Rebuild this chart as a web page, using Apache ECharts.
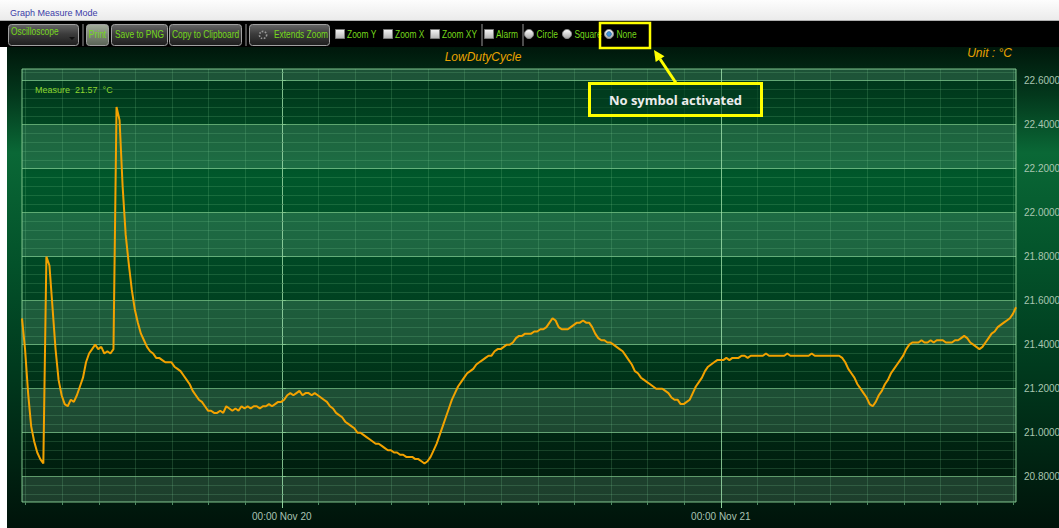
<!DOCTYPE html>
<html>
<head>
<meta charset="utf-8">
<title>LowDutyCycle</title>
<script src="https://cdn.jsdelivr.net/npm/echarts@6/dist/echarts.min.js"></script>
<style>
  html, body { margin: 0; padding: 0; background: #ffffff; }
  #chart { width: 1059px; height: 528px; }
</style>
</head>
<body>
<div id="chart"></div>
<script>
// Temperature record, one reading every 10 minutes.
// Time is counted in hours from 00:00 Nov 20.
const startHour = -14.2;
const stepHour = 1 / 6;
const measure = [
  21.52, 21.38, 21.18, 21.03, 20.96, 20.91, 20.88, 20.86, 21.80, 21.76,
  21.57, 21.38, 21.24, 21.17, 21.13, 21.12, 21.15, 21.14, 21.17, 21.21,
  21.25, 21.32, 21.36, 21.38, 21.40, 21.38, 21.39, 21.36, 21.37, 21.36,
  21.38, 22.48, 22.42, 22.12, 21.90, 21.77, 21.65, 21.56, 21.50, 21.45,
  21.42, 21.39, 21.37, 21.36, 21.34, 21.34, 21.33, 21.32, 21.32, 21.32,
  21.30, 21.29, 21.28, 21.26, 21.24, 21.22, 21.19, 21.17, 21.15, 21.14,
  21.12, 21.10, 21.10, 21.09, 21.09, 21.10, 21.09, 21.12, 21.11, 21.10,
  21.11, 21.10, 21.12, 21.11, 21.12, 21.11, 21.12, 21.12, 21.11, 21.12,
  21.12, 21.13, 21.12, 21.13, 21.14, 21.14, 21.15, 21.17, 21.18, 21.17,
  21.18, 21.19, 21.17, 21.18, 21.18, 21.17, 21.18, 21.17, 21.16, 21.15,
  21.14, 21.12, 21.11, 21.09, 21.08, 21.07, 21.05, 21.04, 21.03, 21.02,
  21.00, 21.00, 20.99, 20.98, 20.97, 20.96, 20.95, 20.95, 20.94, 20.93,
  20.92, 20.92, 20.91, 20.91, 20.90, 20.90, 20.89, 20.89, 20.89, 20.88,
  20.88, 20.87, 20.86, 20.87, 20.89, 20.92, 20.95, 20.99, 21.03, 21.07,
  21.11, 21.15, 21.18, 21.21, 21.23, 21.25, 21.27, 21.28, 21.29, 21.31,
  21.32, 21.33, 21.34, 21.35, 21.35, 21.37, 21.38, 21.38, 21.39, 21.40,
  21.40, 21.41, 21.43, 21.44, 21.44, 21.45, 21.45, 21.45, 21.46, 21.46,
  21.47, 21.47, 21.48, 21.50, 21.52, 21.51, 21.48, 21.47, 21.47, 21.47,
  21.48, 21.49, 21.50, 21.50, 21.51, 21.50, 21.50, 21.48, 21.45, 21.43,
  21.42, 21.42, 21.41, 21.41, 21.40, 21.39, 21.38, 21.37, 21.35, 21.33,
  21.31, 21.28, 21.27, 21.25, 21.24, 21.23, 21.22, 21.21, 21.20, 21.20,
  21.20, 21.19, 21.18, 21.16, 21.15, 21.15, 21.13, 21.13, 21.14, 21.15,
  21.18, 21.21, 21.23, 21.25, 21.28, 21.30, 21.31, 21.32, 21.33, 21.33,
  21.33, 21.34, 21.33, 21.34, 21.34, 21.34, 21.35, 21.35, 21.34, 21.35,
  21.35, 21.35, 21.35, 21.35, 21.36, 21.35, 21.35, 21.35, 21.35, 21.35,
  21.35, 21.36, 21.35, 21.35, 21.35, 21.35, 21.35, 21.35, 21.35, 21.36,
  21.35, 21.35, 21.35, 21.35, 21.35, 21.35, 21.35, 21.35, 21.35, 21.34,
  21.32, 21.29, 21.27, 21.25, 21.22, 21.20, 21.18, 21.16, 21.13, 21.12,
  21.14, 21.17, 21.19, 21.22, 21.24, 21.27, 21.29, 21.31, 21.33, 21.35,
  21.38, 21.40, 21.41, 21.41, 21.41, 21.42, 21.41, 21.41, 21.42, 21.41,
  21.42, 21.42, 21.42, 21.41, 21.41, 21.41, 21.42, 21.42, 21.43, 21.44,
  21.43, 21.41, 21.40, 21.39, 21.38, 21.39, 21.41, 21.43, 21.45, 21.46,
  21.48, 21.49, 21.50, 21.51, 21.52, 21.54, 21.57
];

// Axis ticks and labels
const dayHours = [0, 24];
const dayLabels = ['00:00 Nov 20', '00:00 Nov 21'];
const gridHours = [-14, -12, -10, -8, -6, -4, -2, 0, 2, 4, 6, 8, 10, 12, 14, 16,
                   18, 20, 22, 24, 26, 28, 30, 32, 34, 36, 38, 40];
const yMajor = [20.8, 21.0, 21.2, 21.4, 21.6, 21.8, 22.0, 22.2, 22.4, 22.6];
const yRange = [20.685, 22.653];

// Texts
const windowCaption = 'Graph Measure Mode';
const seriesTitle = 'LowDutyCycle';
const unitText = 'Unit : °C';
const measurePrefix = 'Measure';
const unitSymbol = '°C';
const modeLabel = 'Oscilloscope';
const buttonLabels = ['Print', 'Save to PNG', 'Copy to Clipboard'];
const zoomButtonLabel = 'Extends Zoom';
const checkLabels = ['Zoom Y', 'Zoom X', 'Zoom XY', 'Alarm'];
const radioLabels = ['Circle', 'Square', 'None'];
const selectedRadio = 'None';
const calloutText = 'No symbol activated';

// ---------------------------------------------------------------------
const points = measure.map((v, i) => [startHour + i * stepHour, v]);
const xRange = [startHour, startHour + (measure.length - 1) * stepHour];

// minor horizontal grid: five steps between neighbouring labelled values
const yMinor = [];
for (let i = 0; i < yMajor.length - 1; i++) {
  for (let k = 1; k < 5; k++) {
    yMinor.push(+(yMajor[i] + (yMajor[i + 1] - yMajor[i]) * k / 5).toFixed(3));
  }
}
yMinor.push(+(yMajor[0] - 0.08).toFixed(3), +(yMajor[0] - 0.04).toFixed(3),
            +(yMajor[yMajor.length - 1] + 0.04).toFixed(3));

// alternate bands: lighter between every other pair of labelled values
const bandEdges = [yRange[0]].concat(yMajor, [yRange[1]]);
const bands = [];
for (let i = 0; i < bandEdges.length - 1; i += 2) {
  bands.push([{ yAxis: bandEdges[i] }, { yAxis: bandEdges[i + 1] }]);
}

const UI_FONT = "'Liberation Sans',Arial,sans-serif";
const TOOL_GREEN = '#76d81c';

function vgrad(stops) {
  return {
    type: 'linear', x: 0, y: 0, x2: 0, y2: 1,
    colorStops: stops.map(s => ({ offset: s[0], color: s[1] }))
  };
}
function label(x, y, text, opt) {
  opt = opt || {};
  const align = opt.align || 'left';
  const valign = opt.valign || 'middle';
  return {
    type: 'text', x: x, y: y, silent: true, z: opt.z || 5,
    scaleX: opt.scaleX || 1,
    style: {
      text: text, fill: opt.color || TOOL_GREEN,
      font: opt.font || ('10.5px ' + UI_FONT),
      align: align, textAlign: align,
      verticalAlign: valign, textVerticalAlign: valign
    }
  };
}
// condensed toolbar caption
function toolText(x, y, text, align) {
  return label(x, y, text, { align: align || 'left', scaleX: 0.8 });
}
function buttonBox(x, w, light) {
  return {
    type: 'rect', silent: true, z: 3,
    shape: { x: x + 0.5, y: 24.5, width: w, height: 21, r: 3 },
    style: {
      fill: light ? vgrad([[0, '#a4ad9c'], [0.5, '#7c8676'], [1, '#5a6356']])
                  : vgrad([[0, '#666666'], [0.45, '#3c3c3c'], [1, '#1e1e1e']]),
      stroke: '#a0a0a0', lineWidth: 1
    }
  };
}
function separator(x) {
  return { type: 'rect', silent: true, z: 3,
           shape: { x: x, y: 24, width: 2, height: 22 }, style: { fill: '#4c4c4c' } };
}
function checkBox(x) {
  return { type: 'rect', silent: true, z: 3,
           shape: { x: x + 0.5, y: 29.5, width: 9, height: 9 },
           style: { fill: vgrad([[0, '#f6f6f6'], [1, '#b4b4b4']]), stroke: '#7a7a7a', lineWidth: 1 } };
}
function radio(cx, on) {
  const els = [{ type: 'circle', silent: true, z: 3,
                 shape: { cx: cx, cy: 34, r: 4.5 },
                 style: { fill: vgrad([[0, '#ffffff'], [1, '#a8a8a8']]), stroke: '#8a8a8a', lineWidth: 1 } }];
  if (on) {
    els.push({ type: 'circle', silent: true, z: 4, shape: { cx: cx, cy: 34, r: 2.4 },
               style: { fill: '#3f92d8', stroke: '#1f5f9a', lineWidth: 0.6 } });
  }
  return els;
}

const graphics = [];
// window caption strip
graphics.push({ type: 'rect', silent: true, z: 1, shape: { x: 0, y: 0, width: 1059, height: 20 },
                style: { fill: vgrad([[0, '#fdfdfd'], [1, '#ebebeb']]) } });
graphics.push({ type: 'rect', silent: true, z: 1, shape: { x: 0, y: 20, width: 1059, height: 1 },
                style: { fill: '#b0b0b0' } });
graphics.push(label(10, 13, windowCaption, { color: '#3c3ca8', font: '9px Liberation Sans, Arial, sans-serif' }));
// toolbar
graphics.push({ type: 'rect', silent: true, z: 1, shape: { x: 0, y: 21, width: 1059, height: 26 },
                style: { fill: '#000000' } });
// chart panel
graphics.push({ type: 'rect', silent: true, z: -5, shape: { x: 7, y: 47, width: 1052, height: 481 },
                style: { fill: vgrad([[0, '#00170b'], [0.1, '#03381c'], [0.22, '#0a6836'],
                                      [0.45, '#03522a'], [0.66, '#003b1e'], [1, '#00130a']]) } });

// mode selector
graphics.push(buttonBox(8, 70, false));
graphics.push(toolText(11, 31, modeLabel));
graphics.push({ type: 'polygon', silent: true, z: 5, shape: { points: [[69, 37], [75, 37], [72, 40]] },
                style: { fill: '#111111' } });
graphics.push(separator(82));
// push buttons
const btnLayout = [[86, 22, true], [111, 56, false], [169, 72, false]];
buttonLabels.forEach((t, i) => {
  const b = btnLayout[i];
  graphics.push(buttonBox(b[0], b[1], b[2]));
  graphics.push(toolText(b[0] + b[1] / 2 + 0.5, 34.5, t, 'center'));
});
graphics.push(separator(245));
graphics.push(buttonBox(249, 80, false));
graphics.push({ type: 'circle', silent: true, z: 5, shape: { cx: 263, cy: 35, r: 3.6 },
                style: { fill: 'none', stroke: '#9a9a9a', lineWidth: 1.6, lineDash: [1.6, 1.4] } });
graphics.push(toolText(301, 34, zoomButtonLabel, 'center'));
// check boxes
const checkX = [335, 383, 430, 484];
checkLabels.forEach((t, i) => {
  graphics.push(checkBox(checkX[i]));
  graphics.push(toolText(checkX[i] + 12, 34.5, t));
  if (i === 2) graphics.push(separator(481));
});
graphics.push(separator(522));
// symbol radio buttons
const radioX = [529, 567, 609];
radioLabels.forEach((t, i) => {
  radio(radioX[i], t === selectedRadio).forEach(e => graphics.push(e));
  graphics.push(toolText(radioX[i] + 7.5, 34.5, t));
});

// chart texts
graphics.push(label(483, 57, seriesTitle, { align: 'center', color: '#eaa200',
                font: 'italic 12px Liberation Sans, Arial, sans-serif' }));
graphics.push(label(1012, 53, unitText, { align: 'right', color: '#eaa200',
                font: 'italic 12px Liberation Sans, Arial, sans-serif' }));
graphics.push(label(35, 90, measurePrefix + '  ' + measure[measure.length - 1].toFixed(2) + '  ' + unitSymbol,
                { color: '#8cd630', font: '9px Liberation Sans, Arial, sans-serif', z: 20 }));

// callout pointing at the selected radio button
graphics.push({ type: 'rect', silent: true, z: 30, shape: { x: 600, y: 23, width: 50, height: 25 },
                style: { fill: 'none', stroke: '#ffff00', lineWidth: 2.5 } });
graphics.push({ type: 'line', silent: true, z: 30, shape: { x1: 676, y1: 83, x2: 660, y2: 59 },
                style: { stroke: '#ffff00', lineWidth: 3 } });
graphics.push({ type: 'polygon', silent: true, z: 30,
                shape: { points: [[654, 50], [664.5, 56.2], [655.7, 62.1]] }, style: { fill: '#ffff00' } });
graphics.push({ type: 'rect', silent: true, z: 30, shape: { x: 589.5, y: 83.5, width: 172, height: 32 },
                style: { fill: 'rgba(2,62,32,0.6)', stroke: '#ffff00', lineWidth: 3 } });
graphics.push(label(675.5, 100, calloutText, { align: 'center', color: '#ececec', z: 31,
                font: 'bold 13px "Open Sans", "DejaVu Sans", sans-serif' }));

const minorLine = { show: true, lineStyle: { color: 'rgba(120,200,140,0.2)', width: 1 } };
const majorLine = { show: true, lineStyle: { color: 'rgba(140,215,150,0.65)', width: 1 } };

const option = {
  animation: false,
  backgroundColor: 'transparent',
  graphic: { elements: graphics },
  grid: {
    left: 22, top: 69, right: 43, bottom: 26,
    show: true,
    outerBoundsMode: 'none',
    backgroundColor: vgrad([[0, '#00331a'], [0.08, '#003e1e'], [0.25, '#00582b'],
                            [0.46, '#004724'], [0.66, '#00381b'], [0.89, '#002110'], [1, '#001b0d']]),
    borderColor: '#7ec48a', borderWidth: 1
  },
  xAxis: [
    {
      type: 'value', position: 'bottom', min: xRange[0], max: xRange[1],
      axisLine: { show: false },
      axisTick: { show: true, inside: false, length: 3, customValues: gridHours,
                  lineStyle: { color: '#4f8a62' } },
      axisLabel: { show: false },
      splitLine: minorLine
    },
    {
      type: 'value', position: 'bottom', min: xRange[0], max: xRange[1],
      axisLine: { show: false },
      axisTick: { show: true, inside: false, length: 6, customValues: dayHours,
                  lineStyle: { color: '#8fcf9a' } },
      axisLabel: {
        show: true, customValues: dayHours, margin: 9,
        color: '#a9c3b3', fontSize: 10, fontFamily: 'Liberation Sans, Arial, sans-serif',
        formatter: v => dayLabels[dayHours.indexOf(v)]
      },
      splitLine: { show: true, lineStyle: { color: 'rgba(160,226,170,0.75)', width: 1 } }
    }
  ],
  yAxis: [
    {
      type: 'value', position: 'right', min: yRange[0], max: yRange[1],
      axisLine: { show: false },
      axisTick: { show: true, inside: false, length: 2, customValues: yMinor,
                  lineStyle: { color: '#4f8a62' } },
      axisLabel: { show: false },
      splitLine: minorLine
    },
    {
      type: 'value', position: 'right', min: yRange[0], max: yRange[1],
      axisLine: { show: false },
      axisTick: { show: true, inside: false, length: 4, customValues: yMajor,
                  lineStyle: { color: '#7ec48a' } },
      axisLabel: {
        show: true, customValues: yMajor, margin: 8,
        color: '#a9c6b1', fontSize: 10, fontFamily: 'Liberation Sans, Arial, sans-serif',
        formatter: v => v.toFixed(4)
      },
      splitLine: majorLine
    }
  ],
  series: [
    {
      name: seriesTitle,
      type: 'line',
      xAxisIndex: 0, yAxisIndex: 0,
      data: points,
      showSymbol: false,
      symbol: 'none',
      clip: true,
      lineStyle: { color: '#f2a200', width: 2 },
      z: 5,
      markArea: {
        silent: true,
        itemStyle: { color: 'rgba(170,240,200,0.17)' },
        data: bands
      }
    }
  ]
};

const chart = echarts.init(document.getElementById('chart'), null,
                           { renderer: 'svg', width: 1059, height: 528 });
chart.setOption(option);
</script>
</body>
</html>
